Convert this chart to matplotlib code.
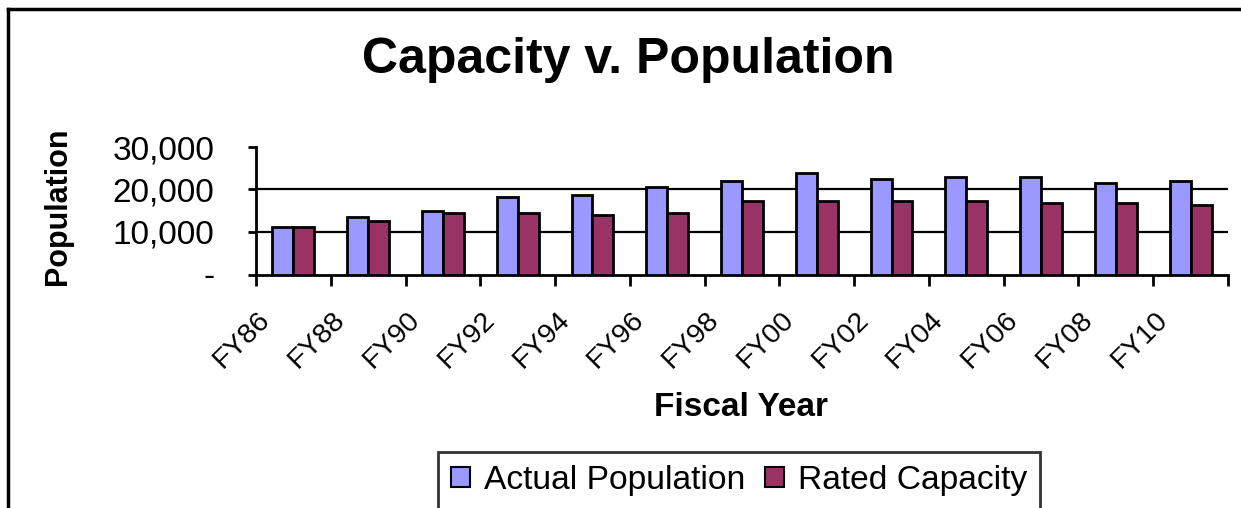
import numpy as np
import matplotlib
matplotlib.use("Agg")
import matplotlib.pyplot as plt
from matplotlib.lines import Line2D
from matplotlib.ticker import FuncFormatter
import matplotlib.transforms as mtransforms

plt.rcParams['font.family'] = ['Liberation Sans', 'DejaVu Sans']

# data
years = ['FY86', 'FY88', 'FY90', 'FY92', 'FY94', 'FY96', 'FY98',
         'FY00', 'FY02', 'FY04', 'FY06', 'FY08', 'FY10']
actual_pop = [11200, 13500, 15000, 18300, 18750, 20500, 22000,
              23900, 22500, 22950, 22950, 21550, 22000]
rated_cap = [11200, 12650, 14550, 14550, 14100, 14550, 17350,
             17350, 17350, 17350, 16900, 16900, 16400]

blue = '#9999FF'
plum = '#993366'

fig = plt.figure(figsize=(12.41, 5.08), dpi=100)
W, H = 1241.0, 508.0
ax = fig.add_axes([256 / W, 1 - 274.5 / H, (1228 - 256) / W, (274.5 - 147) / H])

x = np.arange(len(years))
w = 0.28
ax.bar(x - w / 2, actual_pop, w, color=blue, edgecolor='black', linewidth=2,
       label='Actual Population', zorder=3)
ax.bar(x + w / 2, rated_cap, w, color=plum, edgecolor='black', linewidth=2,
       label='Rated Capacity', zorder=3)

ax.set_xlim(-0.5, len(years) - 0.5)
ax.set_ylim(0, 30000)

# gridlines (none at the top)
for g in [10000, 20000]:
    ax.axhline(g, color='black', linewidth=1.6, zorder=1)

for s in ['top', 'right']:
    ax.spines[s].set_visible(False)
ax.spines['left'].set_linewidth(2)
ax.spines['bottom'].set_linewidth(2)

ax.set_yticks([0, 10000, 20000, 30000])
ax.yaxis.set_major_formatter(FuncFormatter(lambda v, p: '-' if v == 0 else '{:,.0f}'.format(v)))
ax.tick_params(axis='y', direction='out', length=6, width=2, pad=24, labelsize=24)

# category ticks sit between groups, labels at centres
ax.set_xticks(x)
ax.set_xticks(np.arange(len(years) + 1) - 0.5, minor=True)
ax.tick_params(axis='x', which='major', length=0, pad=33)
ax.tick_params(axis='x', which='minor', direction='out', length=8, width=2)
ax.set_xticklabels(years, rotation=45, ha='right', va='baseline',
                   rotation_mode='anchor', fontsize=20.5)
off = mtransforms.ScaledTranslation(-22 / 100, 0, fig.dpi_scale_trans)
for lab in ax.get_xticklabels():
    lab.set_transform(lab.get_transform() + off)

ax.set_xlabel('Fiscal Year', fontsize=24, fontweight='bold')
ax.xaxis.set_label_coords(0.499, -0.92)
ax.set_ylabel('Population', fontsize=22, fontweight='bold')
ax.yaxis.set_label_coords(-0.188, 0.535)

fig.text(628 / W, 1 - 60 / H, 'Capacity v. Population', ha='center', va='center',
         fontsize=36, fontweight='bold')

leg = ax.legend(loc='center', bbox_to_anchor=(739 / W, 1 - 480.5 / H),
                bbox_transform=fig.transFigure, ncol=2, fontsize=24.2,
                frameon=True, fancybox=False, handlelength=0.55, handleheight=0.55,
                handletextpad=0.42, columnspacing=0.6, borderpad=0.38)
leg.get_frame().set_edgecolor('black')
leg.get_frame().set_linewidth(2)
for p in leg.get_patches():
    p.set_linewidth(1.5)

# outer chart frame, cut off at right and bottom
fig.add_artist(Line2D([7.5 / W, 7.5 / W], [0, 1 - 9 / H], color='black', linewidth=2.5,
                      transform=fig.transFigure))
fig.add_artist(Line2D([7.5 / W, 1], [1 - 9 / H, 1 - 9 / H], color='black', linewidth=2.5,
                      transform=fig.transFigure))

fig.savefig('out.png', dpi=100)
